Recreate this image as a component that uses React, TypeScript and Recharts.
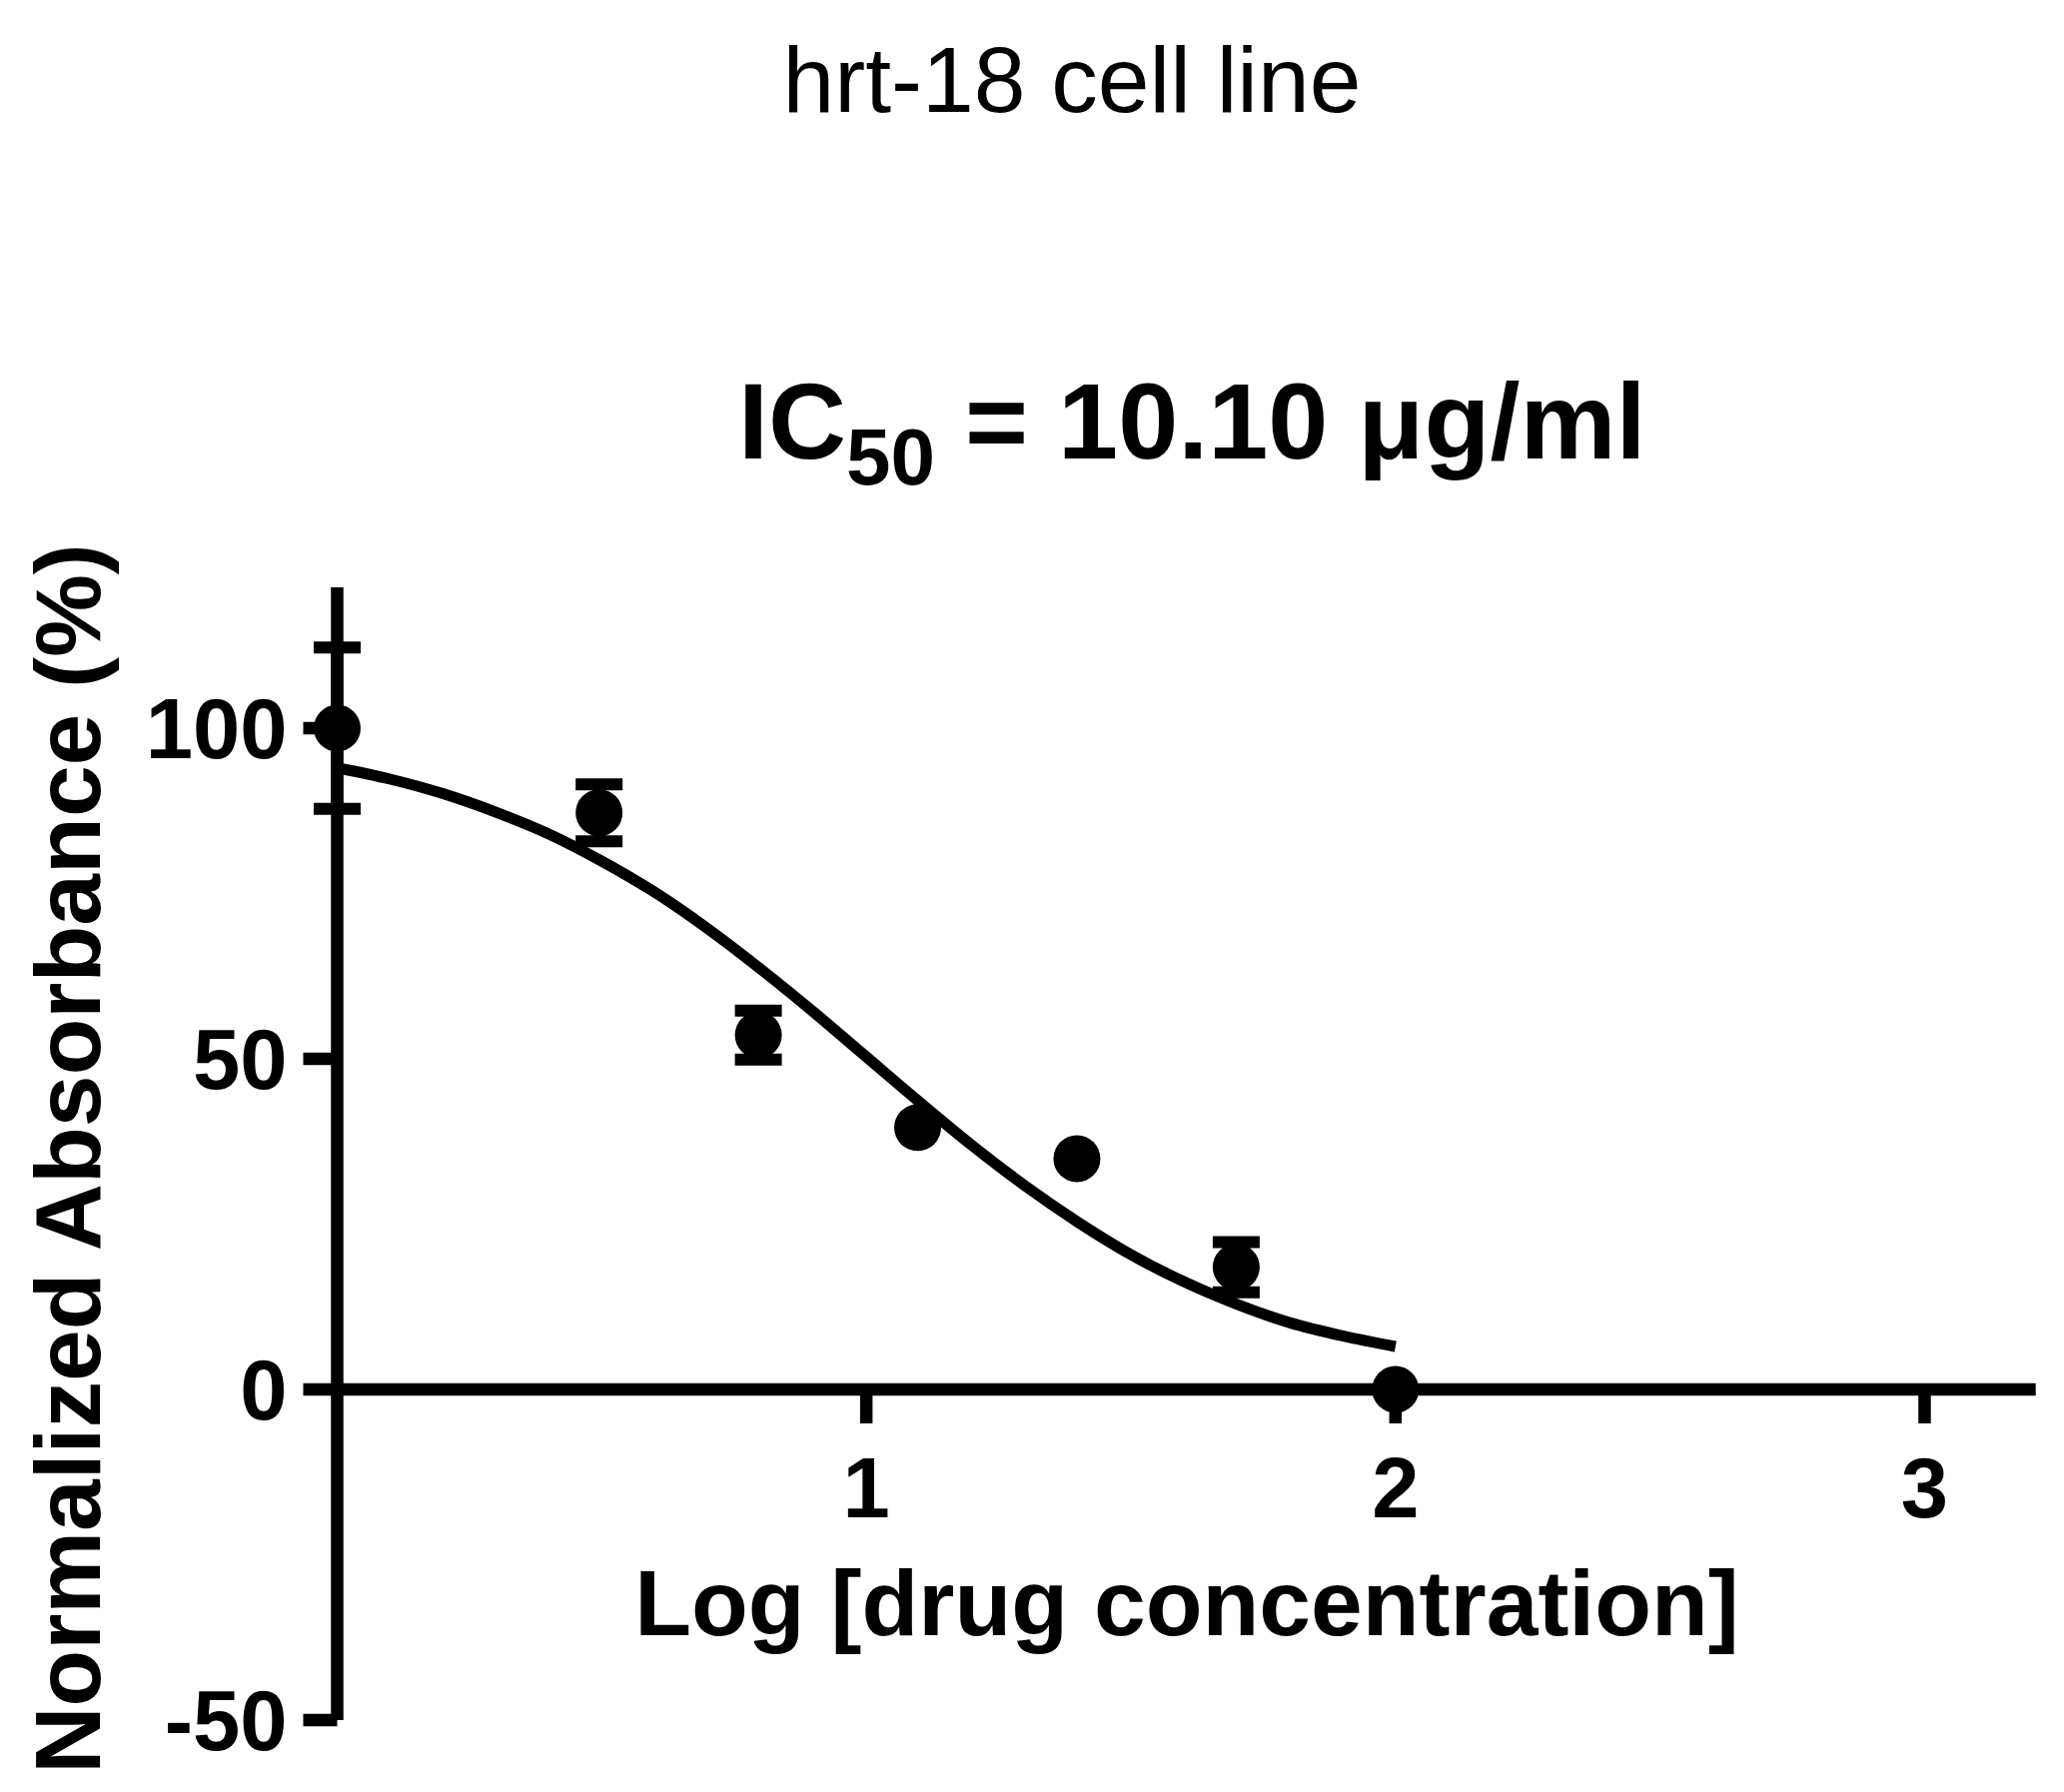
import { ComposedChart, Line, Scatter, XAxis, YAxis, ErrorBar, ReferenceLine } from "recharts";

// measured points: log dose, normalized absorbance (%), SD
const doseLog = [0, 0.495, 0.796, 1.097, 1.398, 1.699, 2.0];
const meanAbs = [100, 87.2, 53.6, 39.6, 34.9, 18.5, 0];
const sdAbs = [12.2, 4.3, 3.7, 0, 0, 3.8, 0];

// fitted curve
const curveX = [0, 0.1, 0.2, 0.3, 0.4, 0.5, 0.6, 0.7, 0.8, 0.9, 1.0, 1.1, 1.2, 1.3, 1.4, 1.5, 1.6, 1.7, 1.8, 1.9, 2.0];
const curveY = [94.0, 92.3, 90.1, 87.3, 84.0, 79.9, 75.2, 69.7, 63.6, 57.1, 50.3, 43.5, 36.9, 30.8, 25.3, 20.4, 16.3, 12.9, 10.1, 8.1, 6.5];

const xTicks = [1, 2, 3];
const yTicks = [-50, 0, 50, 100];

const X_MAX = 3.21;
const Y_MIN = -50;
const Y_MAX = 121.3;

const W = 2066;
const H = 1794;
// y axis gets width 1 and x axis height 1 (zero-size axes are not drawn)
const M = { top: 588, left: 336.5, right: 28.3, bottom: 71 };
const PLOT_H = H - M.top - M.bottom - 1;
// distance from plot bottom up to y = 0, where the x axis is drawn
const ZERO_OFF = (PLOT_H * (0 - Y_MIN)) / (Y_MAX - Y_MIN);

const FONT = "'Liberation Sans', Arial, sans-serif";
const AXIS_W = 12.5;

const points = doseLog.map((x, i) => ({ x, y: meanAbs[i], err: sdAbs[i] }));
const curve = curveX.map((x, i) => ({ x, y: curveY[i] }));

const XTick = (props: any) => {
  const { x, y, payload } = props;
  const y0 = y - ZERO_OFF;
  return (
    <g>
      <line x1={x} x2={x} y1={y0} y2={y0 + 34} stroke="#000" strokeWidth={AXIS_W} />
      <text x={x} y={y0 + 128} textAnchor="middle" fontFamily={FONT} fontWeight={700} fontSize={85} fill="#000">
        {payload.value}
      </text>
    </g>
  );
};

const Dot = (props: any) => <circle cx={props.cx} cy={props.cy} r={23.5} fill="#000" />;

export default function App() {
  return (
    <div style={{ position: "absolute", left: 0, top: 0, width: W, height: H, background: "#fff" }}>
      <ComposedChart width={W} height={H} margin={M}>
        <XAxis
          dataKey="x"
          type="number"
          domain={[0, X_MAX]}
          ticks={xTicks}
          height={1}
          axisLine={false}
          tickLine={false}
          tickSize={0}
          tickMargin={0}
          tick={<XTick />}
          interval={0}
        />
        <YAxis
          dataKey="y"
          type="number"
          domain={[Y_MIN, Y_MAX]}
          ticks={yTicks}
          width={1}
          interval={0}
          axisLine={{ stroke: "#000", strokeWidth: AXIS_W }}
          tickLine={{ stroke: "#000", strokeWidth: AXIS_W }}
          tickSize={34}
          tickMargin={16}
          tick={{ fontSize: 85, fontWeight: 700, fill: "#000", fontFamily: FONT }}
        />
        <ReferenceLine y={0} stroke="#000" strokeWidth={AXIS_W} ifOverflow="visible" />
        <Line
          data={curve}
          dataKey="y"
          type="monotone"
          stroke="#000"
          strokeWidth={11}
          dot={false}
          activeDot={false}
          isAnimationActive={false}
        />
        <Scatter data={points} dataKey="y" fill="#000" shape={<Dot />} isAnimationActive={false}>
          <ErrorBar dataKey="err" direction="y" width={23.5} stroke="#000" strokeWidth={12} />
        </Scatter>
      </ComposedChart>
      <svg width={W} height={H} style={{ position: "absolute", left: 0, top: 0, pointerEvents: "none" }}>
        <text x={1073} y={112} textAnchor="middle" fontFamily={FONT} fontSize={93} fill="#000">
          hrt-18 cell line
        </text>
        <text x={739} y={459} fontFamily={FONT} fontWeight={700} fontSize={108} fill="#000">
          IC
          <tspan fontSize={80} dy={26}>50</tspan>
          <tspan dy={-26}> = 10.10 μg/ml</tspan>
        </text>
        <text
          x={100}
          y={1160}
          transform="rotate(-90 100 1160)"
          textAnchor="middle"
          fontFamily={FONT}
          fontWeight={700}
          fontSize={93}
          fill="#000"
        >
          Normalized Absorbance (%)
        </text>
        <text x={1188} y={1637} textAnchor="middle" fontFamily={FONT} fontWeight={700} fontSize={93} fill="#000">
          Log [drug concentration]
        </text>
      </svg>
    </div>
  );
}
